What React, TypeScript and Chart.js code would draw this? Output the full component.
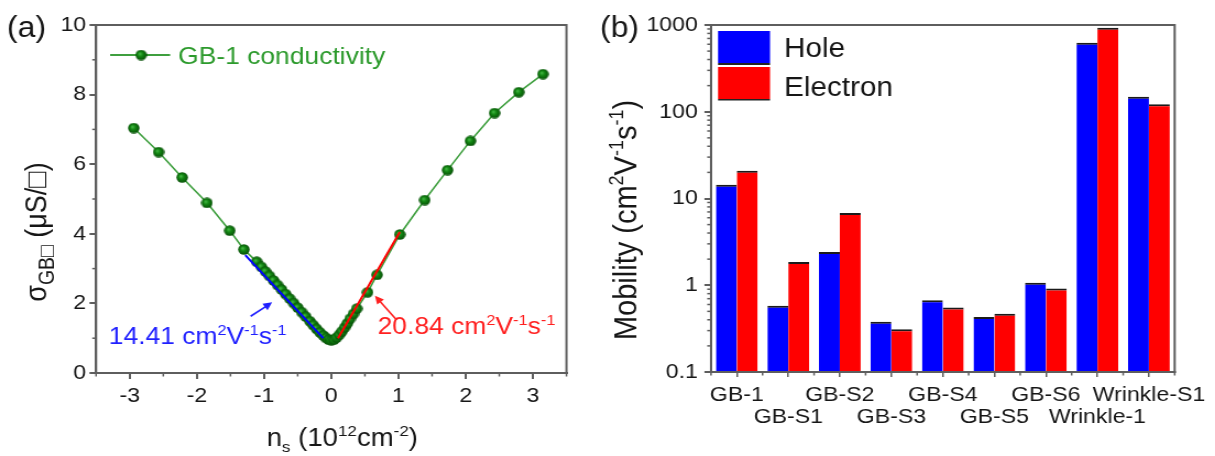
import React, { useEffect, useRef } from 'react';
import { Chart, registerables } from 'chart.js';

Chart.register(...registerables);

// ---------- Panel (a) data ----------
const nsValues = [
  -2.94, -2.57, -2.22, -1.85, -1.51, -1.30,
  -1.11, -1.04, -0.98, -0.92, -0.86, -0.80, -0.74, -0.68, -0.62, -0.56,
  -0.50, -0.44, -0.38, -0.32, -0.27, -0.22, -0.17, -0.12, -0.08, -0.04,
  0.00, 0.04, 0.08, 0.12, 0.16, 0.20, 0.24, 0.28, 0.33, 0.38,
  0.54, 0.68, 1.02, 1.39, 1.73, 2.07, 2.43, 2.79, 3.15,
];
const sigmaValues = [
  7.04, 6.35, 5.62, 4.89, 4.09, 3.55,
  3.20, 3.05, 2.92, 2.79, 2.66, 2.53, 2.40, 2.27, 2.14, 2.01,
  1.88, 1.75, 1.62, 1.49, 1.38, 1.27, 1.17, 1.08, 1.01, 0.96,
  0.94, 0.96, 1.02, 1.10, 1.20, 1.31, 1.43, 1.56, 1.70, 1.85,
  2.32, 2.82, 3.98, 4.97, 5.83, 6.67, 7.47, 8.07, 8.59,
];
const holeFitNs = [-1.28, -0.12];
const holeFitSigma = [3.39, 1.0];
const electronFitNs = [0.1, 1.02];
const electronFitSigma = [1.0, 4.05];
const xTicksA = [-3, -2, -1, 0, 1, 2, 3];
const yTicksA = [0, 2, 4, 6, 8, 10];

// ---------- Panel (b) data ----------
const samples = ['GB-1', 'GB-S1', 'GB-S2', 'GB-S3', 'GB-S4', 'GB-S5', 'GB-S6', 'Wrinkle-1', 'Wrinkle-S1'];
const holeMobility = [14.41, 0.58, 2.42, 0.38, 0.67, 0.43, 1.07, 623, 149];
const electronMobility = [20.84, 1.85, 6.8, 0.31, 0.555, 0.47, 0.92, 931, 122];
const yTicksB = [0.1, 1, 10, 100, 1000];

// Glyphs in the figure are a little wider than tall: each canvas is drawn
// narrower and shown stretched horizontally by SX.
const SX = 1.1;
const WA = 545;
const WB = 559;
const ix = (refX: number) => refX / SX;

const FAMILY = '"Liberation Sans", Arial, "DejaVu Sans", sans-serif';
const AXIS = '#5e5e5e';
const TEXT = '#161616';
const GREEN_LINE = '#3f9f3f';
const GREEN_TEXT = '#2c9a2c';

type Part = { t: string; s?: 'sup' | 'sub'; k?: number };

function drawRich(ctx: CanvasRenderingContext2D, parts: Part[], x: number, baseline: number, size: number, color: string, align: 'left' | 'center') {
  const sz = (p: Part) => (p.s ? size * (p.k ?? 0.62) : size);
  const widths = parts.map((p) => {
    ctx.font = `${sz(p)}px ${FAMILY}`;
    return ctx.measureText(p.t).width;
  });
  const total = widths.reduce((a, b) => a + b, 0);
  let cx = align === 'center' ? x - total / 2 : x;
  ctx.fillStyle = color;
  ctx.textBaseline = 'alphabetic';
  ctx.textAlign = 'left';
  parts.forEach((p, i) => {
    ctx.font = `${sz(p)}px ${FAMILY}`;
    const dy = p.s === 'sup' ? -size * 0.4 : p.s === 'sub' ? size * 0.24 : 0;
    ctx.fillText(p.t, cx, baseline + dy);
    cx += widths[i];
  });
}

function drawRotated(ctx: CanvasRenderingContext2D, parts: Part[], cx: number, cy: number, size: number, color: string) {
  ctx.save();
  ctx.translate(cx, cy);
  ctx.rotate(-Math.PI / 2);
  drawRich(ctx, parts, 0, size * 0.35, size, color, 'center');
  ctx.restore();
}

function drawArrow(ctx: CanvasRenderingContext2D, x1: number, y1: number, x2: number, y2: number, color: string) {
  const ang = Math.atan2(y2 - y1, x2 - x1);
  const hl = 8;
  const hw = 4;
  ctx.save();
  ctx.strokeStyle = color;
  ctx.fillStyle = color;
  ctx.lineWidth = 1.6;
  ctx.beginPath();
  ctx.moveTo(x1, y1);
  ctx.lineTo(x2 - Math.cos(ang) * hl * 0.8, y2 - Math.sin(ang) * hl * 0.8);
  ctx.stroke();
  ctx.beginPath();
  ctx.moveTo(x2, y2);
  ctx.lineTo(x2 - Math.cos(ang) * hl - Math.sin(ang) * hw, y2 - Math.sin(ang) * hl + Math.cos(ang) * hw);
  ctx.lineTo(x2 - Math.cos(ang) * hl + Math.sin(ang) * hw, y2 - Math.sin(ang) * hl - Math.cos(ang) * hw);
  ctx.closePath();
  ctx.fill();
  ctx.restore();
}

function makeBall(): HTMLCanvasElement {
  const c = document.createElement('canvas');
  c.width = 11;
  c.height = 11;
  const g = c.getContext('2d')!;
  const grad = g.createRadialGradient(4.2, 4.2, 0.3, 5.5, 5.5, 5.5);
  grad.addColorStop(0, '#45b845');
  grad.addColorStop(0.4, '#138613');
  grad.addColorStop(1, '#064c06');
  g.fillStyle = grad;
  g.beginPath();
  g.arc(5.5, 5.5, 5.2, 0, Math.PI * 2);
  g.fill();
  return c;
}

function drawFrame(chart: any) {
  const { ctx, chartArea: a } = chart;
  ctx.save();
  ctx.strokeStyle = AXIS;
  ctx.lineWidth = 2;
  ctx.strokeRect(a.left, a.top, a.right - a.left, a.bottom - a.top);
  ctx.restore();
}

function makePanelAPlugin(ball: HTMLCanvasElement) {
  return {
    id: 'panelA',
    afterDatasetsDraw(chart: any) {
      const { ctx } = chart;
      const xs = chart.scales.x;
      const ys = chart.scales.y;
      const px = (v: number) => xs.getPixelForValue(v);
      const py = (v: number) => ys.getPixelForValue(v);
      drawArrow(ctx, px(-1.2), py(1.63), px(-0.88), py(2.03), '#2020ff');
      drawArrow(ctx, px(0.97), py(1.53), px(0.65), py(2.22), '#ff2020');
      drawRich(ctx, [{ t: '14.41 cm' }, { t: '2', s: 'sup' }, { t: 'V' }, { t: '-1', s: 'sup' }, { t: 's' }, { t: '-1', s: 'sup' }],
        px(-3.31), py(1.07) + 8.5, 24, '#1f1fff', 'left');
      drawRich(ctx, [{ t: '20.84 cm' }, { t: '2', s: 'sup' }, { t: 'V' }, { t: '-1', s: 'sup' }, { t: 's' }, { t: '-1', s: 'sup' }],
        px(0.69), py(1.36) + 8.5, 24, '#ff1f1f', 'left');
    },
    afterDraw(chart: any) {
      const { ctx } = chart;
      const xs = chart.scales.x;
      const ys = chart.scales.y;
      const a = chart.chartArea;
      drawFrame(chart);
      ctx.save();
      ctx.strokeStyle = AXIS;
      ctx.lineWidth = 1.5;
      for (let v = -3.5; v <= 3.5; v += 0.5) {
        if (Number.isInteger(v)) continue;
        const x = xs.getPixelForValue(v);
        ctx.beginPath();
        ctx.moveTo(x, a.bottom);
        ctx.lineTo(x, a.bottom + 3.5);
        ctx.stroke();
      }
      for (let v = 1; v < 10; v += 2) {
        const y = ys.getPixelForValue(v);
        ctx.beginPath();
        ctx.moveTo(a.left, y);
        ctx.lineTo(a.left - 3.5, y);
        ctx.stroke();
      }
      ctx.restore();
      // legend
      ctx.save();
      ctx.strokeStyle = GREEN_LINE;
      ctx.lineWidth = 1.8;
      ctx.beginPath();
      ctx.moveTo(ix(110), 55);
      ctx.lineTo(ix(170), 55);
      ctx.stroke();
      ctx.drawImage(ball, ix(141) - ball.width / 2, 55 - ball.height / 2);
      ctx.restore();
      drawRich(ctx, [{ t: 'GB-1 conductivity' }], ix(178), 55 + 8.5, 24, GREEN_TEXT, 'left');
      drawRich(ctx, [{ t: '(a)' }], ix(7), 27 + 10, 29, TEXT, 'left');
      drawRich(ctx, [{ t: 'n' }, { t: 's', s: 'sub' }, { t: ' (10' }, { t: '12', s: 'sup' }, { t: 'cm' }, { t: '-2', s: 'sup' }, { t: ')' }],
        ix(342), 437 + 9, 25, TEXT, 'center');
      drawRotated(ctx, [{ t: 'σ' }, { t: 'GB□', s: 'sub', k: 0.72 }, { t: ' (μS/□)' }], ix(36), 232, 27, TEXT);
    },
  };
}

const panelBPlugin = {
  id: 'panelB',
  afterDraw(chart: any) {
    const { ctx } = chart;
    const xs = chart.scales.x;
    const ys = chart.scales.y;
    const a = chart.chartArea;
    drawFrame(chart);
    ctx.save();
    ctx.strokeStyle = AXIS;
    ctx.lineWidth = 1.5;
    const n = samples.length;
    for (let i = 0; i <= n; i++) {
      const x = i === 0 ? a.left : i === n ? a.right : (xs.getPixelForValue(i - 1) + xs.getPixelForValue(i)) / 2;
      ctx.beginPath();
      ctx.moveTo(x, a.bottom);
      ctx.lineTo(x, a.bottom + 3.5);
      ctx.stroke();
    }
    for (let d = 0.1; d < 999; d *= 10) {
      for (let k = 2; k <= 9; k++) {
        const y = ys.getPixelForValue(d * k);
        ctx.beginPath();
        ctx.moveTo(a.left, y);
        ctx.lineTo(a.left - 3.5, y);
        ctx.stroke();
      }
    }
    ctx.restore();
    const lx = ix(118);
    const lw = ix(52);
    ctx.fillStyle = '#0000ff';
    ctx.fillRect(lx, 31, lw, 32);
    ctx.fillStyle = '#ff0000';
    ctx.fillRect(lx, 67, lw, 32);
    ctx.fillStyle = '#222';
    ctx.fillRect(lx, 63, lw, 2);
    ctx.fillRect(lx, 99, lw, 1.5);
    drawRich(ctx, [{ t: 'Hole' }], ix(184), 47 + 9.5, 27, TEXT, 'left');
    drawRich(ctx, [{ t: 'Electron' }], ix(184), 86 + 9.5, 27, TEXT, 'left');
    drawRich(ctx, [{ t: '(b)' }], 0, 27 + 10, 29, TEXT, 'left');
    drawRotated(ctx, [{ t: 'Mobility (cm' }, { t: '2', s: 'sup' }, { t: 'V' }, { t: '-1', s: 'sup' }, { t: 's' }, { t: '-1', s: 'sup' }, { t: ')' }],
      ix(25), 220, 29, TEXT);
  },
};

export default function App() {
  const refA = useRef<HTMLCanvasElement | null>(null);
  const refB = useRef<HTMLCanvasElement | null>(null);

  useEffect(() => {
    if (!refA.current || !refB.current) return;
    const tickFont = { family: FAMILY, size: 21 };
    const ball = makeBall();

    const chartA = new Chart(refA.current, {
      type: 'scatter',
      data: {
        datasets: [
          {
            label: 'GB-1 conductivity',
            data: nsValues.map((x, i) => ({ x, y: sigmaValues[i] })),
            showLine: true,
            borderColor: GREEN_LINE,
            borderWidth: 1.6,
            pointRadius: 5,
            pointStyle: ball,
            order: 3,
          },
          {
            label: 'hole fit',
            data: holeFitNs.map((x, i) => ({ x, y: holeFitSigma[i] })),
            showLine: true,
            borderColor: '#0000ff',
            borderWidth: 2,
            pointRadius: 0,
            order: 1,
          },
          {
            label: 'electron fit',
            data: electronFitNs.map((x, i) => ({ x, y: electronFitSigma[i] })),
            showLine: true,
            borderColor: '#ff0000',
            borderWidth: 2,
            pointRadius: 0,
            order: 1,
          },
        ],
      },
      options: {
        responsive: false,
        animation: false,
        devicePixelRatio: 1,
        layout: { padding: { left: 0, top: 25, right: WA - ix(566), bottom: 0 } },
        plugins: { legend: { display: false }, tooltip: { enabled: false } },
        scales: {
          x: {
            type: 'linear',
            min: -3.5,
            max: 3.5,
            afterBuildTicks: (s: any) => { s.ticks = xTicksA.map((v) => ({ value: v })); },
            afterFit: (s: any) => { s.height = 83; },
            grid: { drawOnChartArea: false, drawTicks: true, tickLength: 6, color: AXIS, lineWidth: 2 },
            border: { color: AXIS, width: 2 },
            ticks: { font: tickFont, color: TEXT, padding: 5, maxRotation: 0, autoSkip: false },
          },
          y: {
            type: 'linear',
            min: 0,
            max: 10,
            afterBuildTicks: (s: any) => { s.ticks = yTicksA.map((v) => ({ value: v })); },
            afterFit: (s: any) => { s.width = ix(96); },
            grid: { drawOnChartArea: false, drawTicks: true, tickLength: 6, color: AXIS, lineWidth: 2 },
            border: { color: AXIS, width: 2 },
            ticks: { font: tickFont, color: TEXT, padding: 3 },
          },
        },
      },
      plugins: [makePanelAPlugin(ball)],
    } as any);

    const chartB = new Chart(refB.current, {
      type: 'bar',
      data: {
        labels: samples,
        datasets: [
          {
            label: 'Hole',
            data: holeMobility,
            backgroundColor: '#0000ff',
            borderColor: '#1a1a1a',
            borderWidth: { top: 2, left: 0, right: 0, bottom: 0 },
            categoryPercentage: 0.81,
            barPercentage: 1.0,
          },
          {
            label: 'Electron',
            data: electronMobility,
            backgroundColor: '#ff0000',
            borderColor: '#1a1a1a',
            borderWidth: { top: 2, left: 0, right: 0, bottom: 0 },
            categoryPercentage: 0.81,
            barPercentage: 1.0,
          },
        ],
      },
      options: {
        responsive: false,
        animation: false,
        devicePixelRatio: 1,
        layout: { padding: { left: 0, top: 25, right: WB - ix(577), bottom: 0 } },
        plugins: { legend: { display: false }, tooltip: { enabled: false } },
        scales: {
          x: {
            type: 'category',
            afterFit: (s: any) => { s.height = 84; },
            grid: { offset: false, drawOnChartArea: false, drawTicks: true, tickLength: 5, color: AXIS, lineWidth: 1.5 },
            border: { color: AXIS, width: 2 },
            ticks: {
              font: { family: FAMILY, size: 21, lineHeight: 1.05 },
              color: TEXT,
              padding: 7,
              maxRotation: 0,
              minRotation: 0,
              autoSkip: false,
              callback: (_v: any, i: number) => (i % 2 === 0 ? [samples[i]] : ['', samples[i]]),
            },
          },
          y: {
            type: 'logarithmic',
            min: 0.1,
            max: 1000,
            afterBuildTicks: (s: any) => { s.ticks = yTicksB.map((v) => ({ value: v })); },
            afterFit: (s: any) => { s.width = ix(111); },
            grid: { drawOnChartArea: false, drawTicks: true, tickLength: 6, color: AXIS, lineWidth: 2 },
            border: { color: AXIS, width: 2 },
            ticks: { font: tickFont, color: TEXT, padding: 6, callback: (v: any) => String(v) },
          },
        },
      },
      plugins: [panelBPlugin],
    } as any);

    return () => {
      chartA.destroy();
      chartB.destroy();
    };
  }, []);

  return (
    <div style={{ position: 'absolute', left: 0, top: 0, width: 1215, height: 456, background: '#fff' }}>
      <canvas ref={refA} width={WA} height={456} style={{ position: 'absolute', left: 0, top: 0, width: 600, height: 456 }} />
      <canvas ref={refB} width={WB} height={456} style={{ position: 'absolute', left: 600, top: 0, width: 615, height: 456 }} />
    </div>
  );
}
